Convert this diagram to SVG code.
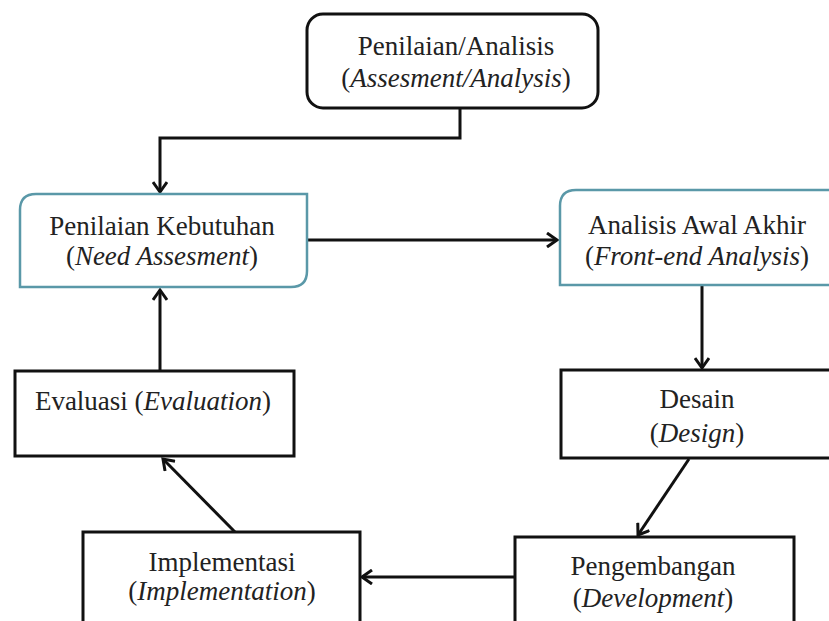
<svg xmlns="http://www.w3.org/2000/svg" width="829" height="621" viewBox="0 0 829 621">
<defs>
<style>
.t{font-family:"Liberation Serif","Times New Roman",serif;font-size:27px;fill:#222;text-anchor:middle}
.i{font-style:italic}
.bk{fill:#fff;stroke:#111;stroke-width:3}
.tl{fill:#fff;stroke:#5a98a8;stroke-width:2.5}
.c{fill:none;stroke:#111;stroke-width:3}
</style>
<marker id="ah" markerWidth="16" markerHeight="16" refX="12" refY="8" orient="auto" markerUnits="userSpaceOnUse">
<path d="M2,1 L12,8 L2,15" fill="none" stroke="#111" stroke-width="3"/>
</marker>
</defs>
<rect width="829" height="621" fill="#fff"/>
<g id="connectors">
<path class="c" d="M460,108 V138 H160 V192" marker-end="url(#ah)"/>
<path class="c" d="M307,240 H557" marker-end="url(#ah)"/>
<path class="c" d="M702,286 V368" marker-end="url(#ah)"/>
<path class="c" d="M689,459 L638,535" marker-end="url(#ah)"/>
<path class="c" d="M515,577 H362" marker-end="url(#ah)"/>
<path class="c" d="M235,532 L163,459" marker-end="url(#ah)"/>
<path class="c" d="M160,371 V290" marker-end="url(#ah)"/>
</g>
<g id="n-assessment">
<rect class="bk" x="307" y="14" width="291" height="94" rx="16"/>
<text class="t" x="456" y="55">Penilaian/Analisis</text>
<text class="t" x="456" y="87">(<tspan class="i">Assesment/Analysis</tspan>)</text>
</g>
<g id="n-need">
<path class="tl" d="M36,194 H307 V271 Q307,287 291,287 H20 V210 Q20,194 36,194 Z"/>
<text class="t" x="162" y="235">Penilaian Kebutuhan</text>
<text class="t" x="162" y="265">(<tspan class="i">Need Assesment</tspan>)</text>
</g>
<g id="n-frontend">
<path class="tl" d="M835,190 H576 Q560,190 560,206 V285 H835"/>
<text class="t" x="697" y="234">Analisis Awal Akhir</text>
<text class="t" x="697" y="265">(<tspan class="i">Front-end Analysis</tspan>)</text>
</g>
<g id="n-design">
<path class="bk" d="M835,370 H561 V458 H835"/>
<text class="t" x="697" y="408">Desain</text>
<text class="t" x="697" y="442">(<tspan class="i">Design</tspan>)</text>
</g>
<g id="n-development">
<path class="bk" d="M515,630 V537 H794 V630"/>
<text class="t" x="653" y="575">Pengembangan</text>
<text class="t" x="653" y="607">(<tspan class="i">Development</tspan>)</text>
</g>
<g id="n-implementation">
<path class="bk" d="M83,630 V532 H360 V630"/>
<text class="t" x="222" y="571">Implementasi</text>
<text class="t" x="222" y="600">(<tspan class="i">Implementation</tspan>)</text>
</g>
<g id="n-evaluation">
<rect class="bk" x="15" y="371" width="279" height="85"/>
<text class="t" x="153" y="410">Evaluasi (<tspan class="i">Evaluation</tspan>)</text>
</g>
</svg>
